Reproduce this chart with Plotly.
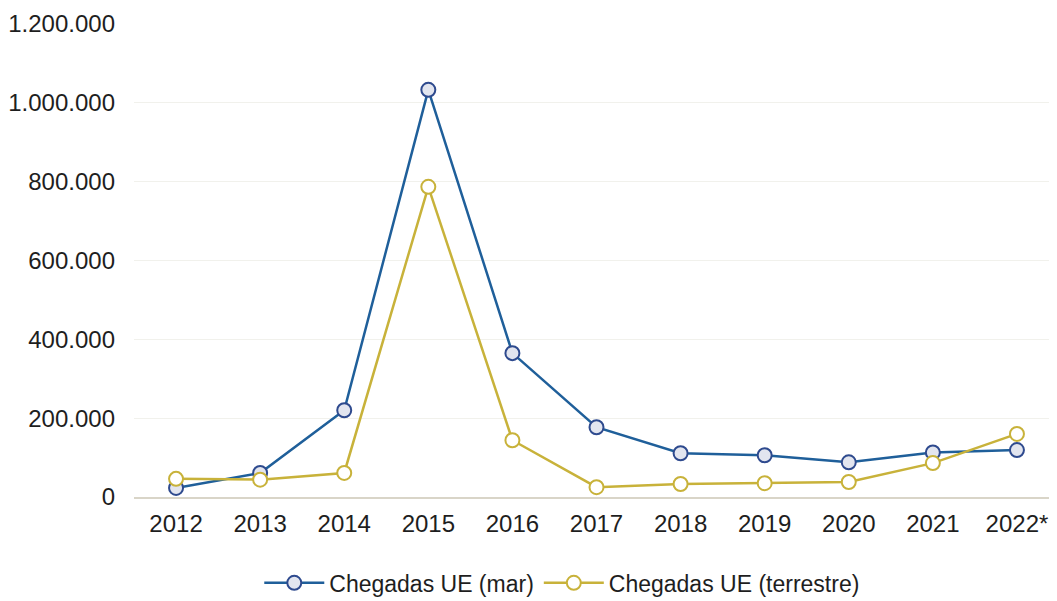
import plotly.graph_objects as go

years = ["2012", "2013", "2014", "2015", "2016", "2017", "2018", "2019", "2020", "2021", "2022*"]
mar = [23000, 61000, 220000, 1033000, 365000, 177000, 111000, 106000, 88000, 113000, 119000]
terrestre = [46000, 44000, 61000, 787000, 144000, 25000, 33000, 35000, 38000, 86000, 160000]
y_ticks = [0, 200000, 400000, 600000, 800000, 1000000, 1200000]

font_family = "Liberation Sans, Arial, sans-serif"

fig = go.Figure()
fig.add_trace(go.Scatter(
    x=years, y=mar, name="Chegadas UE (mar)", mode="lines+markers",
    line=dict(color="#1f5f9a", width=2.5),
    marker=dict(size=14, color="#e2e5ef", line=dict(color="#2e4a8e", width=2)),
))
fig.add_trace(go.Scatter(
    x=years, y=terrestre, name="Chegadas UE (terrestre)", mode="lines+markers",
    line=dict(color="#c8b23a", width=2.5),
    marker=dict(size=14, color="#ffffff", line=dict(color="#c8b23a", width=2)),
))

fig.update_layout(
    width=1057, height=601,
    margin=dict(l=126, r=6, t=16, b=111),
    paper_bgcolor="white", plot_bgcolor="white",
    separators=",.",
    font=dict(family=font_family, size=23, color="#1e1e1e"),
    showlegend=True,
    legend=dict(orientation="h", x=0.463, xanchor="center", y=-0.179, yanchor="middle",
                font=dict(size=23, color="#1e1e1e"), itemwidth=60, tracegroupgap=0),
    xaxis=dict(type="category", range=[-0.5, 10.5], showgrid=False, showline=True,
               linecolor="#d9d5c8", linewidth=1.5, ticks="", tickfont=dict(size=24),
               ticklabelstandoff=4, automargin=False),
    yaxis=dict(range=[0, 1200000], tickvals=y_ticks, tickformat=",d", showgrid=True,
               gridcolor="#f1f1ec", gridwidth=1, zeroline=False, showline=False,
               tickfont=dict(size=24), ticklabelstandoff=18, automargin=False),
)

fig.write_html("out.html")
